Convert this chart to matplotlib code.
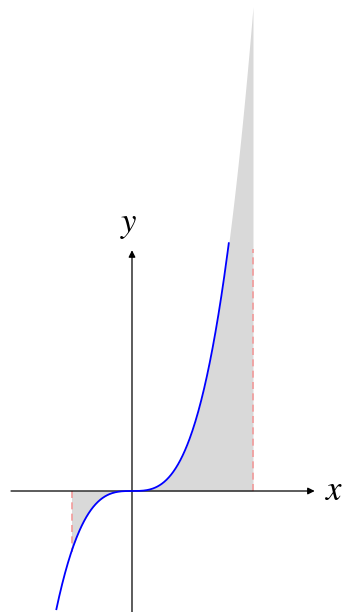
import numpy as np
import matplotlib
matplotlib.use("Agg")
import matplotlib.pyplot as plt

# curve y = x^3, shaded between a and b
curve_x = np.linspace(-1.25, 1.6, 300)
curve_y = curve_x ** 3
shade_a, shade_b = -1.0, 2.0
shade_x = np.linspace(shade_a, shade_b, 400)
shade_y = shade_x ** 3
dash_top = 4.0  # right dashed guide stops at the top of the y axis

fig = plt.figure(figsize=(3.43, 6.12), dpi=100)
ax = fig.add_axes([0, 0, 1, 1])
ax.set_xlim(-2.182, 3.488)
ax.set_ylim(-2.0, 8.116)
ax.axis("off")

ax.fill_between(shade_x, 0, shade_y, color="#d9d9d9", lw=0, zorder=1)
ax.plot([shade_a, shade_a], [0, shade_a ** 3], ls=(0, (4.2, 2.6)), color="#f29a9a", lw=1.2, zorder=2)
ax.plot([shade_b, shade_b], [0, dash_top], ls=(0, (4.2, 2.6)), color="#f29a9a", lw=1.2, zorder=2)

# axes with arrows
ax.annotate("", xy=(3.02, 0), xytext=(-2.0, 0),
            arrowprops=dict(arrowstyle="-|>", color="black", lw=0.9,
                            mutation_scale=10, shrinkA=0, shrinkB=0), zorder=3)
ax.annotate("", xy=(0, 3.98), xytext=(0, -2.05),
            arrowprops=dict(arrowstyle="-|>", color="black", lw=0.9,
                            mutation_scale=10, shrinkA=0, shrinkB=0), zorder=3)

ax.plot(curve_x, curve_y, color="#0000ff", lw=1.3, zorder=4)

ax.text(3.35, 0.0, "$x$", fontsize=25, ha="center", va="center",
        family="Liberation Serif", math_fontfamily="stix")
ax.text(-0.05, 4.4, "$y$", fontsize=25, ha="center", va="center",
        family="Liberation Serif", math_fontfamily="stix")

fig.savefig("out.png", dpi=100)
